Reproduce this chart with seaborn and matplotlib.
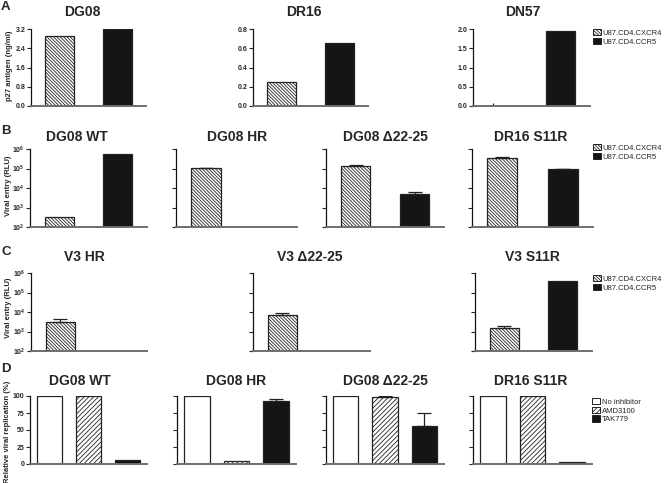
import numpy as np
import pandas as pd
import seaborn as sns
import matplotlib.pyplot as plt
from matplotlib.patches import Patch
from matplotlib.ticker import FuncFormatter

# ---- data -----------------------------------------------------------------
cells = ["U87.CD4.CXCR4", "U87.CD4.CCR5"]
inhibitors = ["No inhibitor", "AMD3100", "TAK779"]

# A: p27 antigen (ng/ml)
a_names = ["DG08", "DR16", "DN57"]
a_cxcr4 = [2.9, 0.25, 0.0]
a_ccr5 = [3.22, 0.65, 1.95]
a_ylim = [3.2, 0.8, 2.0]

# B: viral entry (RLU)
b_names = ["DG08 WT", "DG08 HR", "DG08 \u039422-25", "DR16 S11R"]
b_cxcr4 = [330, 107000, 135000, 345000]
b_cxcr4_err = [0, 3000, 15000, 25000]
b_ccr5 = [550000, np.nan, 4900, 94000]
b_ccr5_err = [0, 0, 1300, 3000]

# C: viral entry (RLU)
c_names = ["V3 HR", "V3 \u039422-25", "V3 S11R"]
c_cxcr4 = [3000, 7000, 1500]
c_cxcr4_err = [1400, 2000, 400]
c_ccr5 = [np.nan, np.nan, 390000]
c_ccr5_err = [0, 0, 0]

# D: relative viral replication (%)
d_names = ["DG08 WT", "DG08 HR", "DG08 \u039422-25", "DR16 S11R"]
d_none = [100, 100, 100, 100]
d_amd = [100, 4, 99, 100]
d_amd_err = [0, 0, 1, 0]
d_tak = [6, 93, 56, 3]
d_tak_err = [0, 3, 19, 0]

# ---- style ------------------------------------------------------------------
sns.set_style("ticks")
plt.rcParams["font.family"] = ["Liberation Sans", "DejaVu Sans"]
plt.rcParams["mathtext.fontset"] = "custom"
plt.rcParams["mathtext.rm"] = "Liberation Sans"
plt.rcParams["mathtext.bf"] = "Liberation Sans:bold"
plt.rcParams["hatch.linewidth"] = 0.6

W, H = 664, 483
fig = plt.figure(figsize=(W / 100, H / 100), dpi=100)


def px_axes(x0, x1, y0, y1):
    return fig.add_axes([x0 / W, 1 - y1 / H, (x1 - x0) / W, (y1 - y0) / H])


def ftext(x, y, s, **kw):
    fig.text(x / W, 1 - y / H, s, **kw)


def panel(ax, groups, values, errs, fills, hatches, width, log=False,
          ylim=None, yticks=None, labels=True, fmt="%.1f"):
    df = pd.DataFrame({"group": groups, "value": values})
    pal = dict(zip(groups, fills))
    sns.barplot(data=df, x="group", y="value", hue="group", order=groups,
                hue_order=groups, palette=pal, legend=False, width=width,
                edgecolor="#222222", linewidth=0.9, errorbar=None, ax=ax,
                saturation=1)
    for p in ax.patches:
        i = int(round(p.get_x() + p.get_width() / 2))
        p.set_hatch(hatches[i])
    pos = np.arange(len(groups))
    err = np.array(errs, dtype=float)
    vals = np.array(values, dtype=float)
    keep = err > 0
    if keep.any():
        ax.errorbar(pos[keep], vals[keep],
                    yerr=[np.zeros(keep.sum()), err[keep]], fmt="none",
                    ecolor="#222222", elinewidth=0.9, capsize=5,
                    capthick=0.9)
    ax.set_xlim(-0.5, len(groups) - 0.5)
    if log:
        ax.set_yscale("log")
        ax.set_ylim(1e2, 1e6)
        ax.set_yticks([1e2, 1e3, 1e4, 1e5, 1e6])
        ax.minorticks_off()
        ax.yaxis.set_major_formatter(
            FuncFormatter(lambda v, _: r"$\mathbf{10^{%d}}$" % round(np.log10(v))))
    else:
        ax.set_ylim(0, ylim)
        ax.set_yticks(yticks)
        ax.yaxis.set_major_formatter(FuncFormatter(lambda v, _: fmt % v))
    ax.set_xlabel("")
    ax.set_ylabel("")
    ax.set_xticks([])
    sns.despine(ax=ax)
    ax.spines["left"].set_color("#111111")
    ax.spines["left"].set_linewidth(0.9)
    ax.spines["bottom"].set_color("#6e6e6e")
    ax.spines["bottom"].set_linewidth(1.4)
    ax.tick_params(axis="y", length=3, width=0.8, pad=1, labelsize=5,
                   labelleft=labels)
    for t in ax.get_yticklabels():
        t.set_fontweight("bold")


hatch_bs = "\\" * 10
hatch_fs = "/" * 7
two_fill = ["white", "#151515"]
two_hatch = [hatch_bs, ""]
three_fill = ["white", "white", "#151515"]
three_hatch = ["", hatch_fs, ""]

title_kw = dict(fontsize=10, fontweight="bold", ha="center", va="center")
letter_kw = dict(fontsize=9.5, fontweight="bold", ha="left", va="center")
ylab_kw = dict(fontsize=5.5, fontweight="bold", rotation=90,
               ha="center", va="center")

# ---- row A ------------------------------------------------------------------
a_rects = [(31, 146), (253, 368), (473, 590)]
a_ticks = [[0, 0.8, 1.6, 2.4, 3.2], [0, 0.2, 0.4, 0.6, 0.8],
           [0, 0.5, 1.0, 1.5, 2.0]]
a_title_x = [82, 304, 523]
for k, (x0, x1) in enumerate(a_rects):
    ax = px_axes(x0, x1, 29, 106)
    panel(ax, cells, [a_cxcr4[k], a_ccr5[k]], [0, 0], two_fill, two_hatch,
          0.5, ylim=a_ylim[k], yticks=a_ticks[k])
    if a_cxcr4[k] == 0:
        ax.vlines(-0.15, 0, a_ylim[k] * 0.04, color="#222222", lw=0.9)
    ftext(a_title_x[k], 12, a_names[k], **title_kw)
ftext(1, 7, "A", **letter_kw)
ftext(10, 66, "p27 antigen (ng/ml)", **ylab_kw)

# ---- row B ------------------------------------------------------------------
b_rects = [(30, 147), (176, 297), (326, 444), (472, 593)]
b_title_x = [77, 237, 385, 531]
for k, (x0, x1) in enumerate(b_rects):
    ax = px_axes(x0, x1, 149, 227)
    panel(ax, cells, [b_cxcr4[k], b_ccr5[k]], [b_cxcr4_err[k], b_ccr5_err[k]],
          two_fill, two_hatch, 0.5, log=True, labels=(k == 0))
    ftext(b_title_x[k], 137, b_names[k], **title_kw)
ftext(1, 131, "B", **letter_kw)
ftext(9, 186, "Viral entry (RLU)", **ylab_kw)

# ---- row C ------------------------------------------------------------------
c_rects = [(31, 147), (253, 370), (475, 592)]
c_title_x = [84, 310, 532]
for k, (x0, x1) in enumerate(c_rects):
    ax = px_axes(x0, x1, 273, 351)
    panel(ax, cells, [c_cxcr4[k], c_ccr5[k]], [c_cxcr4_err[k], c_ccr5_err[k]],
          two_fill, two_hatch, 0.5, log=True, labels=(k == 0))
    ftext(c_title_x[k], 257, c_names[k], **title_kw)
ftext(1, 252, "C", **letter_kw)
ftext(9, 308, "Viral entry (RLU)", **ylab_kw)

# ---- row D ------------------------------------------------------------------
d_rects = [(30, 147), (177, 296), (326, 444), (473, 592)]
d_title_x = [80, 236, 385, 531]
for k, (x0, x1) in enumerate(d_rects):
    ax = px_axes(x0, x1, 396, 464)
    panel(ax, inhibitors, [d_none[k], d_amd[k], d_tak[k]],
          [0, d_amd_err[k], d_tak_err[k]], three_fill, three_hatch, 0.65,
          ylim=100, yticks=[0, 25, 50, 75, 100], labels=(k == 0), fmt="%d")
    ftext(d_title_x[k], 381, d_names[k], **title_kw)
ftext(1, 369, "D", **letter_kw)
ftext(8, 432, "Relative viral replication (%)", **ylab_kw)

# ---- legends ----------------------------------------------------------------
leg_kw = dict(loc="upper left", frameon=False, fontsize=5.5, handlelength=1.1,
              handleheight=0.9, handletextpad=0.15, labelspacing=0.12,
              borderpad=0, borderaxespad=0)


def cell_handles():
    return [Patch(facecolor=f, edgecolor="#222222", hatch=h, lw=0.7)
            for f, h in zip(two_fill, two_hatch)]


for y in (29, 144, 275):
    fig.legend(cell_handles(), cells, bbox_to_anchor=(593 / W, 1 - y / H),
               **leg_kw)
inh_handles = [Patch(facecolor=f, edgecolor="#222222", hatch=h, lw=0.7)
               for f, h in zip(three_fill, three_hatch)]
fig.legend(inh_handles, inhibitors, bbox_to_anchor=(592 / W, 1 - 398 / H),
           **leg_kw)

fig.savefig("out.png", dpi=100)
